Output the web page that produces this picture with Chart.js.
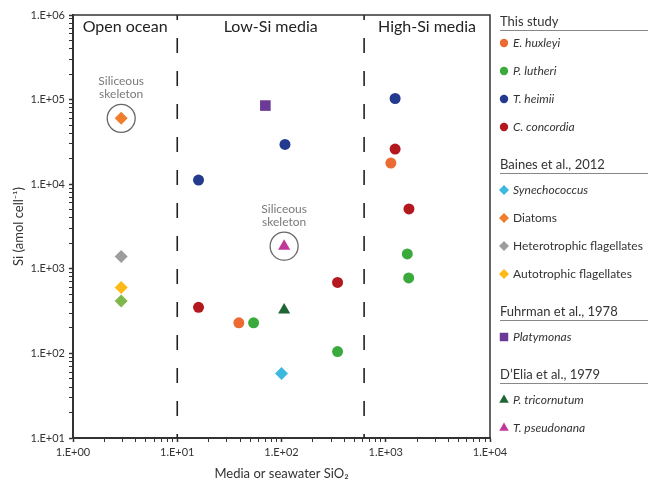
<!DOCTYPE html>
<html>
<head>
<meta charset="utf-8">
<script src="https://cdn.jsdelivr.net/npm/chart.js@4.4.1/dist/chart.umd.min.js"></script>
<style>
  html, body { margin: 0; padding: 0; background: #fff; }
  #wrap { width: 648px; height: 483px; }
</style>
</head>
<body>
<div id="wrap"><canvas id="siChart" width="648" height="483"></canvas></div>
<script>
// Log axes: labels only on the decades
const xMajorTicks = [1, 10, 100, 1000, 10000];
const xTickLabels = ['1.E+00', '1.E+01', '1.E+02', '1.E+03', '1.E+04'];
const yMajorTicks = [10, 100, 1000, 10000, 100000, 1000000];
const yTickLabels = ['1.E+01', '1.E+02', '1.E+03', '1.E+04', '1.E+05', '1.E+06'];

// Region boundaries on the SiO2 axis
const regionBounds = [10, 620];
const regionNames = ['Open ocean', 'Low-Si media', 'High-Si media'];

// Legend group headings
const sources = ['This study', 'Baines et al., 2012', 'Fuhrman et al., 1978', 'D\u2019Elia et al., 1979'];

// This study
const eHuxleyiX = [39, 1120];
const eHuxleyiY = [230, 17800];
const pLutheriX = [54, 345, 1610, 1660];
const pLutheriY = [230, 105, 1500, 780];
const tHeimiiX = [16, 108, 1230];
const tHeimiiY = [11200, 29500, 103000];
const cConcordiaX = [16, 345, 1230, 1670];
const cConcordiaY = [350, 690, 26000, 5100];

// Baines et al., 2012
const synechococcusX = [100];
const synechococcusY = [58];
const diatomsX = [2.9];
const diatomsY = [60000];
const heteroFlagX = [2.9];
const heteroFlagY = [1400];
const autoFlagX = [2.9];
const autoFlagY = [600];
const unlabelledX = [2.9];
const unlabelledY = [415];

// Fuhrman et al., 1978
const platymonasX = [70];
const platymonasY = [85000];

// D'Elia et al., 1979
const pTricornutumX = [106];
const pTricornutumY = [325];
const tPseudonanaX = [106];
const tPseudonanaY = [1850];

// points with a siliceous skeleton get a ring + note
const siliceous = ['Diatoms', 'T. pseudonana'];

const series = [
    { label: 'E. huxleyi', group: 0, x: eHuxleyiX, y: eHuxleyiY, color: '#ec6b33', style: 'circle', italic: true },
    { label: 'P. lutheri', group: 0, x: pLutheriX, y: pLutheriY, color: '#3baa3c', style: 'circle', italic: true },
    { label: 'T. heimii', group: 0, x: tHeimiiX, y: tHeimiiY, color: '#233a8e', style: 'circle', italic: true },
    { label: 'C. concordia', group: 0, x: cConcordiaX, y: cConcordiaY, color: '#b3181f', style: 'circle', italic: true },
    { label: 'Synechococcus', group: 1, x: synechococcusX, y: synechococcusY, color: '#3bb9de', style: 'rectRot', italic: true },
    { label: 'Diatoms', group: 1, x: diatomsX, y: diatomsY, color: '#ef7d2e', style: 'rectRot', italic: false },
    { label: 'Heterotrophic flagellates', group: 1, x: heteroFlagX, y: heteroFlagY, color: '#9d9d9d', style: 'rectRot', italic: false },
    { label: 'Autotrophic flagellates', group: 1, x: autoFlagX, y: autoFlagY, color: '#fdb918', style: 'rectRot', italic: false },
    { label: '', group: -1, x: unlabelledX, y: unlabelledY, color: '#7fb84a', style: 'rectRot', italic: false },
    { label: 'Platymonas', group: 2, x: platymonasX, y: platymonasY, color: '#6b3a96', style: 'rect', italic: true },
    { label: 'P. tricornutum', group: 3, x: pTricornutumX, y: pTricornutumY, color: '#1f6533', style: 'triangle', italic: true },
    { label: 'T. pseudonana', group: 3, x: tPseudonanaX, y: tPseudonanaY, color: '#c2379b', style: 'triangle', italic: true }
];

const plotRadius = { circle: 5.5, rectRot: 6.5, rect: 7.5, triangle: 7 };
const legendRadius = { circle: 4.2, rectRot: 5, rect: 6, triangle: 5.5 };

const FONT = 'Lato, "Open Sans", sans-serif';
Chart.defaults.font.family = FONT;
Chart.defaults.color = '#333';

// 1..9 x each decade between the major ticks
function logTicks(majors) {
    const ticks = [];
    for (let i = 0; i < majors.length - 1; i++) {
        for (let k = 1; k < 10; k++) ticks.push(majors[i] * k);
    }
    ticks.push(majors[majors.length - 1]);
    return ticks.map(v => ({ value: v, major: majors.includes(v) }));
}

const decorPlugin = {
    id: 'decor',
    beforeDatasetsDraw(chart) {
        const { ctx, chartArea: a, scales: { x } } = chart;
        ctx.save();

        // dashed region boundaries
        ctx.strokeStyle = '#222';
        ctx.lineWidth = 1.6;
        ctx.setLineDash([15, 18]);
        ctx.lineDashOffset = 10;
        regionBounds.forEach(v => {
            const px = x.getPixelForValue(v);
            ctx.beginPath();
            ctx.moveTo(px, a.top);
            ctx.lineTo(px, a.bottom);
            ctx.stroke();
        });
        ctx.setLineDash([]);

        // region names
        const edges = [a.left, ...regionBounds.map(v => x.getPixelForValue(v)), a.right];
        ctx.font = '16px ' + FONT;
        ctx.fillStyle = '#222';
        ctx.textAlign = 'center';
        ctx.textBaseline = 'middle';
        regionNames.forEach((n, i) => ctx.fillText(n, (edges[i] + edges[i + 1]) / 2, a.top + 12));

        // siliceous skeleton rings
        chart.data.datasets.forEach((ds, i) => {
            if (!siliceous.includes(ds.label)) return;
            chart.getDatasetMeta(i).data.forEach(pt => {
                ctx.beginPath();
                ctx.arc(pt.x, pt.y, 14, 0, Math.PI * 2);
                ctx.strokeStyle = '#666';
                ctx.lineWidth = 1.3;
                ctx.stroke();
                ctx.fillStyle = '#7a7a7a';
                ctx.font = '12px ' + FONT;
                ctx.fillText('Siliceous', pt.x, pt.y - 37);
                ctx.fillText('skeleton', pt.x, pt.y - 24);
            });
        });
        ctx.restore();
    },
    afterDraw(chart) {
        const { ctx, chartArea: a } = chart;
        ctx.save();

        // top and right frame
        ctx.strokeStyle = '#333';
        ctx.lineWidth = 1.5;
        ctx.beginPath();
        ctx.moveTo(a.left, a.top);
        ctx.lineTo(a.right, a.top);
        ctx.lineTo(a.right, a.bottom);
        ctx.stroke();

        // grouped legend
        const lx = a.right + 10;
        let ly = 22;
        ctx.textAlign = 'left';
        ctx.textBaseline = 'middle';
        sources.forEach((src, gi) => {
            ctx.font = '13px ' + FONT;
            ctx.fillStyle = '#333';
            ctx.fillText(src, lx, ly);
            ctx.beginPath();
            ctx.moveTo(lx, ly + 8.5);
            ctx.lineTo(chart.width, ly + 8.5);
            ctx.strokeStyle = '#888';
            ctx.lineWidth = 1;
            ctx.stroke();
            ly += gi === 0 ? 21 : 25;

            series.filter(s => s.group === gi).forEach(s => {
                ctx.fillStyle = s.color;
                Chart.helpers.drawPoint(ctx, { pointStyle: s.style, radius: legendRadius[s.style], borderWidth: 0, rotation: 0 }, lx + 4, ly);
                ctx.fillStyle = '#333';
                ctx.font = (s.italic ? 'italic ' : '') + '12px ' + FONT;
                ctx.fillText(s.label, lx + 13, ly);
                ly += 28;
            });
            ly += 10;
        });
        ctx.restore();
    }
};

new Chart(document.getElementById('siChart'), {
    type: 'scatter',
    data: {
        datasets: series.map(s => ({
            label: s.label,
            data: s.x.map((v, i) => ({ x: v, y: s.y[i] })),
            pointStyle: s.style,
            pointRadius: plotRadius[s.style],
            backgroundColor: s.color,
            borderColor: s.color,
            borderWidth: 0
        }))
    },
    options: {
        responsive: false,
        animation: false,
        layout: { padding: { top: 15, right: 158, left: 0, bottom: 0 } },
        scales: {
            x: {
                type: 'logarithmic',
                min: 1,
                max: 10000,
                afterBuildTicks: axis => { axis.ticks = logTicks(xMajorTicks); },
                afterFit: axis => { axis.height = 45; },
                grid: {
                    drawOnChartArea: false,
                    drawTicks: true,
                    tickLength: 4,
                    tickColor: '#333',
                    tickWidth: ctx => (ctx.tick && ctx.tick.major ? 1.5 : 1)
                },
                border: { display: true, color: '#333', width: 2 },
                ticks: {
                    autoSkip: false,
                    maxRotation: 0,
                    padding: 4,
                    color: '#333',
                    font: { size: 11 },
                    callback: function(value) {
                        const i = xMajorTicks.indexOf(value);
                        return i >= 0 ? xTickLabels[i] : '';
                    }
                },
                title: {
                    display: true,
                    text: 'Media or seawater SiO\u2082',
                    color: '#333',
                    font: { size: 13 },
                    padding: { top: 0, bottom: 1 }
                }
            },
            y: {
                type: 'logarithmic',
                min: 10,
                max: 1000000,
                afterBuildTicks: axis => { axis.ticks = logTicks(yMajorTicks); },
                afterFit: axis => { axis.width = 73; },
                grid: {
                    drawOnChartArea: false,
                    drawTicks: true,
                    tickLength: 4,
                    tickColor: '#333',
                    tickWidth: ctx => (ctx.tick && ctx.tick.major ? 1.5 : 1)
                },
                border: { display: true, color: '#333', width: 2 },
                ticks: {
                    autoSkip: false,
                    padding: 4,
                    color: '#333',
                    font: { size: 11 },
                    callback: function(value) {
                        const i = yMajorTicks.indexOf(value);
                        return i >= 0 ? yTickLabels[i] : '';
                    }
                },
                title: {
                    display: true,
                    text: 'Si (amol cell\u207B\u00B9)',
                    color: '#333',
                    font: { size: 13 },
                    padding: { top: 11, bottom: 0 }
                }
            }
        },
        plugins: {
            legend: { display: false },
            tooltip: { enabled: false }
        }
    },
    plugins: [decorPlugin]
});
</script>
</body>
</html>
